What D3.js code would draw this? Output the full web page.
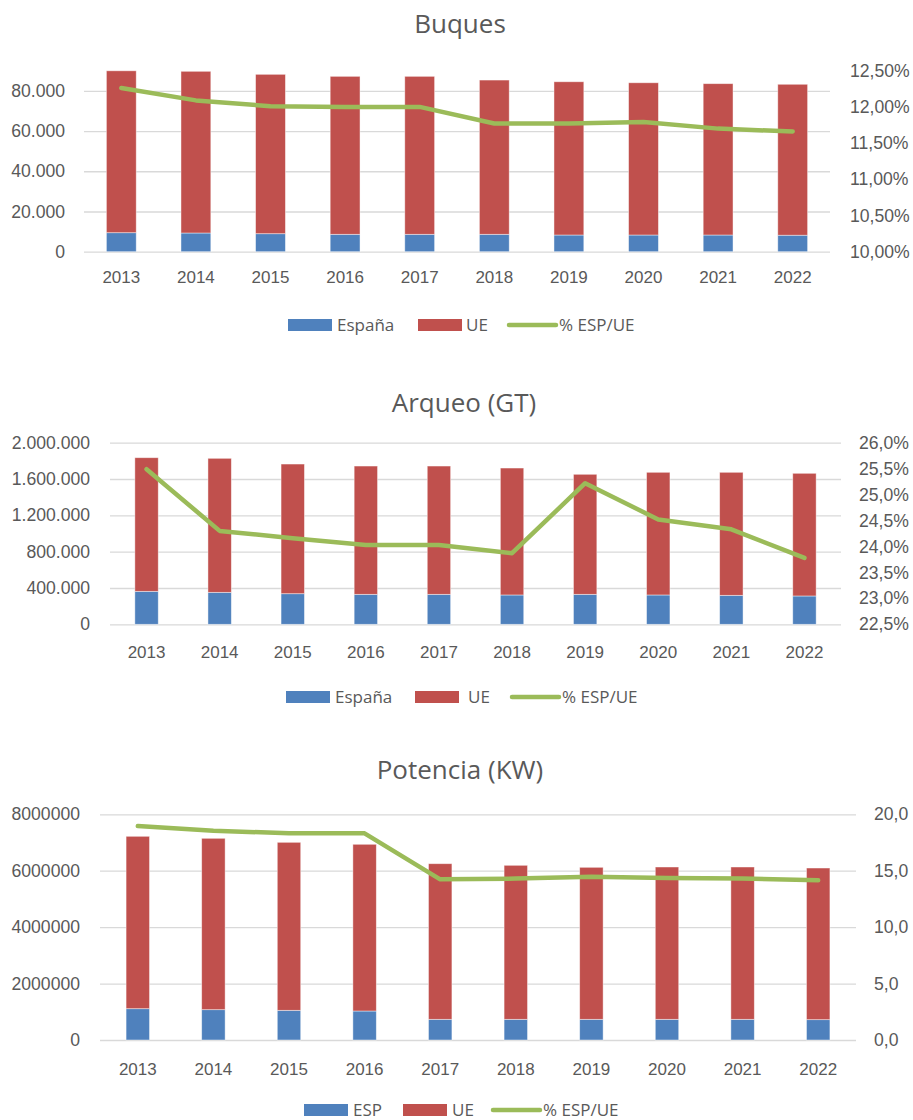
<!DOCTYPE html>
<html>
<head>
<meta charset="utf-8">
<script src="https://cdn.jsdelivr.net/npm/d3@7"></script>
<style>
  body { margin: 0; background: #fff; }
  svg { display: block; font-family: "Open Sans", sans-serif; }
  .tick text { fill: #595959; font-size: 17px; }
  .yax .tick text { font-size: 17.6px; }
  .grid line { stroke: #d9d9d9; stroke-width: 1.3; }
</style>
</head>
<body>
<svg id="chart" width="913" height="1120"></svg>
<script>
// data
const years = ["2013", "2014", "2015", "2016", "2017", "2018", "2019", "2020", "2021", "2022"];

const buquesEsp = [9450, 9300, 8950, 8650, 8650, 8650, 8300, 8300, 8300, 8200];
const buquesUE = [80500, 80400, 79250, 78550, 78550, 76700, 76200, 75700, 75250, 75050];
const buquesPct = [12.26, 12.09, 12.01, 12.00, 12.00, 11.77, 11.77, 11.79, 11.70, 11.66];

const arqueoEsp = [363000, 352000, 337000, 330000, 330000, 323000, 330000, 323000, 319000, 312000];
const arqueoUE = [1471800, 1476000, 1428000, 1413000, 1413000, 1398000, 1322000, 1351000, 1355000, 1351000];
const arqueoPct = [25.49, 24.30, 24.16, 24.03, 24.03, 23.87, 25.22, 24.52, 24.33, 23.78];

const potenciaEsp = [1110000, 1075000, 1052000, 1028000, 733000, 733000, 733000, 733000, 733000, 721000];
const potenciaUE = [6110000, 6074000, 5955000, 5909000, 5516000, 5459000, 5388000, 5399000, 5399000, 5375000];
const potenciaPct = [18.96, 18.55, 18.31, 18.31, 14.24, 14.30, 14.47, 14.36, 14.30, 14.15];

// tick labels
const buquesLeftTicks = [0, 20000, 40000, 60000, 80000];
const buquesRightTicks = [10, 10.5, 11, 11.5, 12, 12.5];
const arqueoLeftTicks = [0, 400000, 800000, 1200000, 1600000, 2000000];
const arqueoRightTicks = [22.5, 23, 23.5, 24, 24.5, 25, 25.5, 26];
const potenciaLeftTicks = [0, 2000000, 4000000, 6000000, 8000000];
const potenciaRightTicks = [0, 5, 10, 15, 20];

const esLocale = d3.formatLocale({decimal: ",", thousands: ".", grouping: [3], currency: ["", " €"]});

const colors = {esp: "#4f81bd", ue: "#c0504d", pct: "#9bbb59", text: "#595959"};

const charts = [
  {
    title: "Buques", titleX: 460, titleY: 33,
    esp: buquesEsp, ue: buquesUE, pct: buquesPct,
    left: [84, 830], top: 70.7, bottom: 251.7, barPad: 0.6,
    yMax: 90000, leftTicks: buquesLeftTicks, leftFmt: esLocale.format(",.0f"),
    rDomain: [10, 12.5], rightTicks: buquesRightTicks, rightFmt: d => esLocale.format(".2f")(d) + "%",
    leftPad: 19, rightPad: 20, xPad: 19.3,
    legendY: 325, legend: [["rect", 288, "España", 337], ["rect2", 418, "UE", 466], ["line", 509, "% ESP/UE", 559]]
  },
  {
    title: "Arqueo (GT)", titleX: 464, titleY: 411.5,
    esp: arqueoEsp, ue: arqueoUE, pct: arqueoPct,
    left: [110, 841], top: 442.7, bottom: 624.3, barPad: 0.68,
    yMax: 2000000, leftTicks: arqueoLeftTicks, leftFmt: esLocale.format(",.0f"),
    rDomain: [22.5, 26], rightTicks: arqueoRightTicks, rightFmt: d => esLocale.format(".1f")(d) + "%",
    leftPad: 20, rightPad: 18, xPad: 21.7,
    legendY: 697, legend: [["rect", 286, "España", 335], ["rect2", 415, "UE", 468], ["line", 512, "% ESP/UE", 562]]
  },
  {
    title: "Potencia (KW)", titleX: 460, titleY: 779,
    esp: potenciaEsp, ue: potenciaUE, pct: potenciaPct,
    left: [100, 856], top: 814.3, bottom: 1040, barPad: 0.69,
    yMax: 8000000, leftTicks: potenciaLeftTicks, leftFmt: d3.format("d"),
    rDomain: [0, 20], rightTicks: potenciaRightTicks, rightFmt: esLocale.format(".1f"),
    leftPad: 20, rightPad: 18, xPad: 23,
    legendY: 1110, legend: [["rect", 304, "ESP", 353], ["rect2", 403, "UE", 452], ["line", 493, "% ESP/UE", 543]]
  }
];

const svg = d3.select("#chart");

charts.forEach(c => {
  const g = svg.append("g");

  const x = d3.scaleBand().domain(years).range(c.left).paddingInner(c.barPad).paddingOuter(c.barPad / 2);
  const y = d3.scaleLinear().domain([0, c.yMax]).range([c.bottom, c.top]);
  const yR = d3.scaleLinear().domain(c.rDomain).range([c.bottom, c.top]);

  // title
  g.append("text")
    .attr("x", c.titleX).attr("y", c.titleY)
    .attr("text-anchor", "middle")
    .attr("fill", colors.text)
    .attr("font-size", "26px")
    .text(c.title);

  // gridlines
  g.append("g").attr("class", "grid")
    .attr("transform", `translate(${c.left[0]},0)`)
    .call(d3.axisLeft(y).tickValues(c.leftTicks).tickSize(-(c.left[1] - c.left[0])).tickFormat(""))
    .call(a => a.select(".domain").remove());

  // stacked bars
  const rows = years.map((yr, i) => ({year: yr, esp: c.esp[i], ue: c.ue[i], pct: c.pct[i]}));
  const stack = d3.stack().keys(["esp", "ue"])(rows);
  g.append("g").selectAll("g")
    .data(stack)
    .join("g")
    .attr("fill", d => d.key === "esp" ? colors.esp : colors.ue)
    .selectAll("rect")
    .data(d => d)
    .join("rect")
    .attr("x", d => x(d.data.year))
    .attr("width", x.bandwidth())
    .attr("y", d => y(d[1]))
    .attr("height", d => y(d[0]) - y(d[1]))
    .attr("stroke", "#fff")
    .attr("stroke-opacity", 0.55)
    .attr("stroke-width", 0.8);

  // percentage line
  const line = d3.line()
    .x(d => x(d.year) + x.bandwidth() / 2)
    .y(d => yR(d.pct));
  g.append("path")
    .datum(rows)
    .attr("fill", "none")
    .attr("stroke", colors.pct)
    .attr("stroke-width", 4.5)
    .attr("stroke-linejoin", "round")
    .attr("stroke-linecap", "round")
    .attr("d", line);

  // axes
  g.append("g").attr("class", "yax")
    .attr("transform", `translate(${c.left[0]},0)`)
    .call(d3.axisLeft(y).tickValues(c.leftTicks).tickFormat(c.leftFmt).tickSize(0).tickPadding(c.leftPad))
    .call(a => a.select(".domain").remove());

  g.append("g").attr("class", "yax")
    .attr("transform", `translate(${c.left[1]},0)`)
    .call(d3.axisRight(yR).tickValues(c.rightTicks).tickFormat(c.rightFmt).tickSize(0).tickPadding(c.rightPad))
    .call(a => a.select(".domain").remove());

  g.append("g")
    .attr("transform", `translate(0,${c.bottom})`)
    .call(d3.axisBottom(x).tickSize(0).tickPadding(c.xPad))
    .call(a => a.select(".domain").remove());

  // legend
  const lg = g.append("g");
  c.legend.forEach(([kind, lx, label, tx]) => {
    if (kind === "line") {
      lg.append("line")
        .attr("x1", lx).attr("x2", lx + 47)
        .attr("y1", c.legendY).attr("y2", c.legendY)
        .attr("stroke", colors.pct).attr("stroke-width", 4.5)
        .attr("stroke-linecap", "round");
    } else {
      lg.append("rect")
        .attr("x", lx).attr("y", c.legendY - 6)
        .attr("width", 44).attr("height", 12)
        .attr("fill", kind === "rect" ? colors.esp : colors.ue);
    }
    lg.append("text")
      .attr("x", tx).attr("y", c.legendY)
      .attr("dy", "0.35em")
      .attr("fill", colors.text)
      .attr("font-size", "17px")
      .text(label);
  });
});
</script>
</body>
</html>
